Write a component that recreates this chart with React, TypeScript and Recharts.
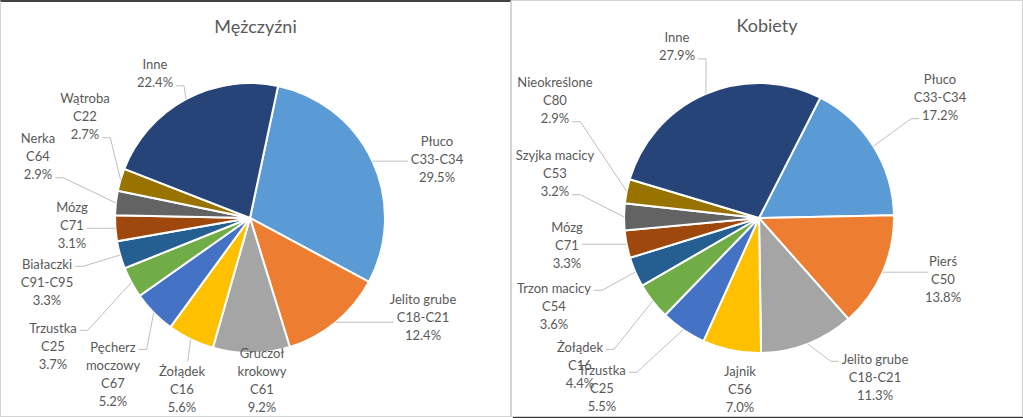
import React from 'react';
import { PieChart, Pie, Cell } from 'recharts';

const menNames = [
  'Płuco\nC33-C34',
  'Jelito grube\nC18-C21',
  'Gruczoł\nkrokowy\nC61',
  'Żołądek\nC16',
  'Pęcherz\nmoczowy\nC67',
  'Trzustka\nC25',
  'Białaczki\nC91-C95',
  'Mózg\nC71',
  'Nerka\nC64',
  'Wątroba\nC22',
  'Inne',
];
const menValues = [29.5, 12.4, 9.2, 5.6, 5.2, 3.7, 3.3, 3.1, 2.9, 2.7, 22.4];

const womenNames = [
  'Płuco\nC33-C34',
  'Pierś\nC50',
  'Jelito grube\nC18-C21',
  'Jajnik\nC56',
  'Trzustka\nC25',
  'Żołądek\nC16',
  'Trzon macicy\nC54',
  'Mózg\nC71',
  'Szyjka macicy\nC53',
  'Nieokreślone\nC80',
  'Inne',
];
const womenValues = [17.2, 13.8, 11.3, 7.0, 5.5, 4.4, 3.6, 3.3, 3.2, 2.9, 27.9];

const sliceColors = [
  '#5B9BD5',
  '#ED7D31',
  '#A5A5A5',
  '#FFC000',
  '#4472C4',
  '#70AD47',
  '#255E91',
  '#9E480E',
  '#636363',
  '#997300',
  '#264478',
];

// where each label block sits, relative to the pie centre (px)
const menLabelOffsets = [
  [187, -59],
  [173, 99],
  [12, 162],
  [-68, 171],
  [-137, 156],
  [-197, 128],
  [-203, 64],
  [-178, 7],
  [-212, -62],
  [-165, -102],
  [-95, -145],
];
const womenLabelOffsets = [
  [181, -121],
  [184, 61],
  [116, 159],
  [-19, 171],
  [-157, 170],
  [-179, 147],
  [-205, 88],
  [-192, 27],
  [-204, -45],
  [-204, -118],
  [-82, -172],
];

const FONT = 'Lato, "Open Sans", sans-serif';
const LINE_H = 17.7;
const RADIUS = 135;

let measureCtx: CanvasRenderingContext2D | null = null;
const textWidth = (s: string) => {
  if (!measureCtx) measureCtx = document.createElement('canvas').getContext('2d');
  if (!measureCtx) return s.length * 6.5;
  measureCtx.font = '13px Lato';
  return measureCtx.measureText(s).width;
};

const clamp = (v: number, lo: number, hi: number) => Math.max(lo, Math.min(hi, v));

const makeLabel = (names: string[], values: number[], offsets: number[][]) => (props: any) => {
  const { cx, cy, midAngle, outerRadius, index } = props;
  const rad = Math.PI / 180;
  const ex = cx + outerRadius * Math.cos(-midAngle * rad);
  const ey = cy + outerRadius * Math.sin(-midAngle * rad);
  const lines = [...names[index].split('\n'), values[index].toFixed(1) + '%'];
  const [dx, dy] = offsets[index];
  const lx = cx + dx;
  const ly = cy + dy;
  const top = ly - ((lines.length - 1) * LINE_H) / 2;
  const bottom = ly + ((lines.length - 1) * LINE_H) / 2;

  const ay = clamp(ey, top + 2, bottom + 4);
  const li = clamp(Math.round((ay - top) / LINE_H), 0, lines.length - 1);
  const hw = textWidth(lines[li]) / 2;

  let pts: number[][] | null = null;
  if (ex < lx - hw) {
    const ax = lx - hw - 3;
    pts = [[ex, ey], [ax - 8, ay], [ax, ay]];
  } else if (ex > lx + hw) {
    const ax = lx + hw + 3;
    pts = [[ex, ey], [ax + 8, ay], [ax, ay]];
  } else if (ey < top - 25) {
    pts = [[ex, ey], [ex - 3, top - 10]];
  } else if (ey > bottom + 25) {
    pts = [[ex, ey], [ex, bottom + 10]];
  }

  return (
    <g key={'lbl-' + index}>
      {pts && (
        <polyline
          points={pts.map((p) => p.join(',')).join(' ')}
          fill='none'
          stroke='#bfbfbf'
          strokeWidth={1}
        />
      )}
      {lines.map((t, i) => (
        <text
          key={i}
          x={lx}
          y={top + i * LINE_H}
          textAnchor='middle'
          dominantBaseline='central'
          fill='#595959'
          style={{ fontFamily: FONT, fontSize: 13 }}
        >
          {t}
        </text>
      ))}
    </g>
  );
};

const PieBox = ({
  title,
  names,
  values,
  offsets,
  startAngle,
  boxStyle,
  cx,
  cy,
}: {
  title: string;
  names: string[];
  values: number[];
  offsets: number[][];
  startAngle: number;
  boxStyle: React.CSSProperties;
  cx: number;
  cy: number;
}) => {
  const data = names.map((n, i) => ({ name: n, value: values[i] }));
  return (
    <div style={{ position: 'absolute', boxSizing: 'border-box', background: '#fff', ...boxStyle }}>
      <div
        style={{
          position: 'absolute',
          top: 13,
          left: 0,
          width: '100%',
          textAlign: 'center',
          fontFamily: FONT,
          fontSize: 18,
          lineHeight: '22px',
          color: '#595959',
          zIndex: 1,
        }}
      >
        {title}
      </div>
      <PieChart width={509} height={414} margin={{ top: 0, right: 0, bottom: 0, left: 0 }}>
        <Pie
          data={data}
          dataKey='value'
          nameKey='name'
          cx={cx}
          cy={cy}
          outerRadius={RADIUS}
          startAngle={startAngle}
          endAngle={startAngle - 360}
          stroke='#fff'
          strokeWidth={2}
          label={makeLabel(names, values, offsets)}
          labelLine={false}
          isAnimationActive={false}
        >
          {data.map((_, i) => (
            <Cell key={i} fill={sliceColors[i]} />
          ))}
        </Pie>
      </PieChart>
    </div>
  );
};

export default function App() {
  return (
    <div
      style={{
        position: 'fixed',
        left: 0,
        top: 0,
        width: 1023,
        height: 418,
        background: '#fff',
        overflow: 'hidden',
      }}
    >
      <PieBox
        title='Mężczyźni'
        names={menNames}
        values={menValues}
        offsets={menLabelOffsets}
        startAngle={78}
        cx={249}
        cy={216}
        boxStyle={{
          left: 0,
          top: 0,
          width: 511,
          height: 417,
          border: '1px solid #d4d4d4',
          borderTop: '2px solid #444',
        }}
      />
      <PieBox
        title='Kobiety'
        names={womenNames}
        values={womenValues}
        offsets={womenLabelOffsets}
        startAngle={63}
        cx={247}
        cy={217}
        boxStyle={{
          left: 511,
          top: 0,
          width: 512,
          height: 417,
          border: '1px solid #d4d4d4',
        }}
      />
      <div style={{ position: 'absolute', left: 513, top: 417, width: 510, height: 1, background: '#333' }} />
    </div>
  );
}
